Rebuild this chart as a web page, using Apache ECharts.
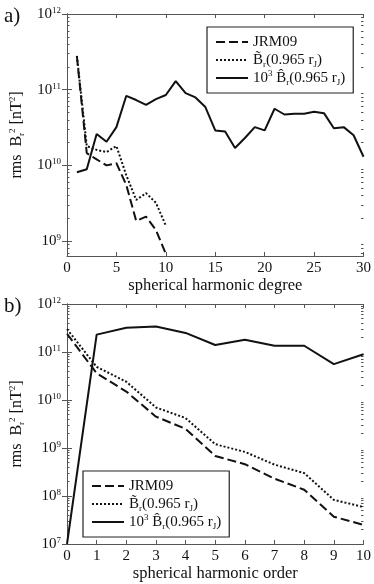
<!DOCTYPE html>
<html>
<head>
<meta charset="utf-8">
<script src="https://cdn.jsdelivr.net/npm/echarts@6/dist/echarts.min.js"></script>
<style>
  html, body { margin: 0; padding: 0; background: #fff; }
  #chart { width: 374px; height: 584px; }
</style>
</head>
<body>
<div id="chart"></div>
<script>
// panel a: rms power vs spherical harmonic degree
const degrees = [1, 2, 3, 4, 5, 6, 7, 8, 9, 10, 11, 12, 13, 14, 15, 16, 17, 18, 19, 20,
  21, 22, 23, 24, 25, 26, 27, 28, 29, 30];
const jrmDegree = [2.75e11, 1.45e10, 1.2e10, 1.0e10, 1.07e10, 5.5e9, 1.85e9, 2.1e9, 1.4e9, 6.8e8];
const bTildeDegree = [2.8e11, 1.8e10, 1.6e10, 1.5e10, 1.8e10, 7.4e9, 3.5e9, 4.3e9, 3.2e9, 1.6e9];
const bHatDegree = [8.1e9, 8.9e9, 2.6e10, 2.05e10, 3.2e10, 8.3e10, 7.3e10, 6.3e10, 7.5e10, 8.5e10,
  1.3e11, 9.0e10, 7.9e10, 5.9e10, 2.9e10, 2.8e10, 1.7e10, 2.3e10, 3.2e10, 2.9e10,
  5.6e10, 4.7e10, 4.8e10, 4.8e10, 5.1e10, 4.9e10, 3.1e10, 3.2e10, 2.5e10, 1.3e10];

// panel b: rms power vs spherical harmonic order
const orders = [0, 1, 2, 3, 4, 5, 6, 7, 8, 9, 10];
const jrmOrder = [2.4e11, 3.6e10, 1.5e10, 4.5e9, 2.5e9, 6.8e8, 4.6e8, 2.3e8, 1.35e8, 3.7e7, 2.5e7];
const bTildeOrder = [3.0e11, 4.9e10, 2.4e10, 7.0e9, 4.2e9, 1.2e9, 8.3e8, 4.5e8, 3.0e8, 8.3e7, 5.9e7];
const bHatOrder = [1e7, 2.3e11, 3.2e11, 3.4e11, 2.5e11, 1.4e11, 1.8e11, 1.35e11, 1.35e11, 5.6e10, 9.0e10];

const decadesA = [1e9, 1e10, 1e11, 1e12];
const decadesB = [1e7, 1e8, 1e9, 1e10, 1e11, 1e12];

const seriesNames = ['JRM09', 'Btilde', 'Bhat'];

const FONT = '"Liberation Serif", "Times New Roman", serif';
const AXIS_COLOR = '#555';
const LINE_COLOR = '#111';

function minorsOf(decades, lo) {
  const out = [];
  const first = decades[0] / 10;
  for (let d = first; d < decades[decades.length - 1]; d *= 10) {
    for (let k = 2; k <= 9; k++) {
      const v = d * k;
      if (v >= lo) out.push(v);
    }
  }
  return out;
}

const rich = {
  t: { fontFamily: FONT, fontSize: 15, color: '#111', lineHeight: 18 },
  n: { fontFamily: FONT, fontSize: 16, color: '#111', lineHeight: 18 },
  sup: { fontFamily: FONT, fontSize: 9, color: '#111', verticalAlign: 'top', lineHeight: 18 },
  sub: { fontFamily: FONT, fontSize: 9, color: '#111', verticalAlign: 'bottom', lineHeight: 14 }
};

function legendText(name) {
  if (name === 'JRM09') return '{t|JRM09}';
  if (name === 'Btilde') return '{t|B\u0303}{sub|r}{t|(0.965 r}{sub|J}{t|)}';
  return '{t|10}{sup|3}{t| B\u0302}{sub|r}{t|(0.965 r}{sub|J}{t|)}';
}

function xAxes(gridIndex, max, interval, name) {
  return [
    {
      gridIndex, type: 'value', min: 0, max, interval, position: 'bottom',
      name, nameLocation: 'middle', nameGap: 20,
      nameTextStyle: { fontFamily: FONT, fontSize: 16.5, color: '#111' },
      axisLine: { lineStyle: { color: AXIS_COLOR, width: 1 } },
      axisTick: { inside: true, length: 4, lineStyle: { color: AXIS_COLOR } },
      axisLabel: { fontFamily: FONT, fontSize: 15, color: '#111', margin: 5 },
      splitLine: { show: false }
    },
    {
      gridIndex, type: 'value', min: 0, max, interval, position: 'top',
      axisLine: { lineStyle: { color: AXIS_COLOR, width: 1 } },
      axisTick: { inside: true, length: 4, lineStyle: { color: AXIS_COLOR } },
      axisLabel: { show: false },
      splitLine: { show: false }
    }
  ];
}

function yAxes(gridIndex, min, max, decades) {
  const minors = minorsOf(decades, min);
  const base = { gridIndex, type: 'log', logBase: 10, min, max, splitLine: { show: false } };
  return [
    Object.assign({}, base, {
      position: 'left',
      name: '{n|rms  B}{sub|r}{sup|2}{n| [nT}{sup|2}{n|]}',
      nameLocation: 'middle', nameGap: 41, nameRotate: 90,
      nameTextStyle: { rich },
      axisLine: { show: true, lineStyle: { color: AXIS_COLOR, width: 1 } },
      axisTick: { inside: true, length: 5, customValues: decades, lineStyle: { color: AXIS_COLOR } },
      axisLabel: {
        customValues: decades, margin: 6,
        formatter: v => '{b|10}{e|' + Math.round(Math.log10(v)) + '}',
        rich: {
          b: { fontFamily: FONT, fontSize: 15, color: '#111', lineHeight: 16 },
          e: { fontFamily: FONT, fontSize: 9, color: '#111', verticalAlign: 'top', lineHeight: 16 }
        }
      }
    }),
    Object.assign({}, base, {
      position: 'right',
      axisLine: { show: true, lineStyle: { color: AXIS_COLOR, width: 1 } },
      axisTick: { inside: true, length: 5, customValues: decades, lineStyle: { color: AXIS_COLOR } },
      axisLabel: { show: false }
    }),
    Object.assign({}, base, {
      position: 'left',
      axisLine: { show: false },
      axisTick: { inside: true, length: 2.5, customValues: minors, lineStyle: { color: AXIS_COLOR } },
      axisLabel: { show: false }
    }),
    Object.assign({}, base, {
      position: 'right',
      axisLine: { show: false },
      axisTick: { inside: true, length: 2.5, customValues: minors, lineStyle: { color: AXIS_COLOR } },
      axisLabel: { show: false }
    })
  ];
}

function lineSeries(name, xs, ys, xAxisIndex, yAxisIndex) {
  const styles = {
    JRM09: { type: [9, 4] },
    Btilde: { type: [2, 2] },
    Bhat: { type: 'solid' }
  };
  return {
    name, type: 'line', xAxisIndex, yAxisIndex,
    data: ys.map((y, i) => [xs[i], y]),
    symbol: 'none', showSymbol: false,
    lineStyle: Object.assign({ color: LINE_COLOR, width: 2 }, styles[name]),
    itemStyle: { color: LINE_COLOR },
    clip: true
  };
}

const legendBase = {
  orient: 'vertical',
  data: seriesNames,
  itemWidth: 32, itemHeight: 10, itemGap: 0,
  padding: [6, 8, 6, 8],
  backgroundColor: '#fff',
  borderColor: '#222', borderWidth: 1.2,
  selectedMode: false,
  itemStyle: { opacity: 0 },
  formatter: legendText,
  textStyle: { rich, fontFamily: FONT, fontSize: 15, color: '#111', lineHeight: 17 }
};

const chart = echarts.init(document.getElementById('chart'), null, { renderer: 'canvas' });

chart.setOption({
  animation: false,
  backgroundColor: '#fff',
  title: [
    { text: 'a)', left: -1, top: 1, textStyle: { fontFamily: FONT, fontSize: 21, fontWeight: 'normal', color: '#111' } },
    { text: 'b)', left: -1, top: 291, textStyle: { fontFamily: FONT, fontSize: 21, fontWeight: 'normal', color: '#111' } }
  ],
  grid: [
    { left: 60, top: 14, width: 307, height: 242 },
    { left: 60, top: 304, width: 307, height: 240 }
  ],
  xAxis: [
    ...xAxes(0, 30, 5, 'spherical harmonic degree'),
    ...xAxes(1, 10, 1, 'spherical harmonic order')
  ],
  yAxis: [
    ...yAxes(0, 6.35e8, 1e12, decadesA),
    ...yAxes(1, 1e7, 1e12, decadesB)
  ],
  legend: [
    Object.assign({}, legendBase, { left: 207, top: 27 }),
    Object.assign({}, legendBase, { left: 83, top: 471 })
  ],
  series: [
    lineSeries('JRM09', degrees, jrmDegree, 0, 0),
    lineSeries('Btilde', degrees, bTildeDegree, 0, 0),
    lineSeries('Bhat', degrees, bHatDegree, 0, 0),
    lineSeries('JRM09', orders, jrmOrder, 2, 4),
    lineSeries('Btilde', orders, bTildeOrder, 2, 4),
    lineSeries('Bhat', orders, bHatOrder, 2, 4)
  ]
});
</script>
</body>
</html>
